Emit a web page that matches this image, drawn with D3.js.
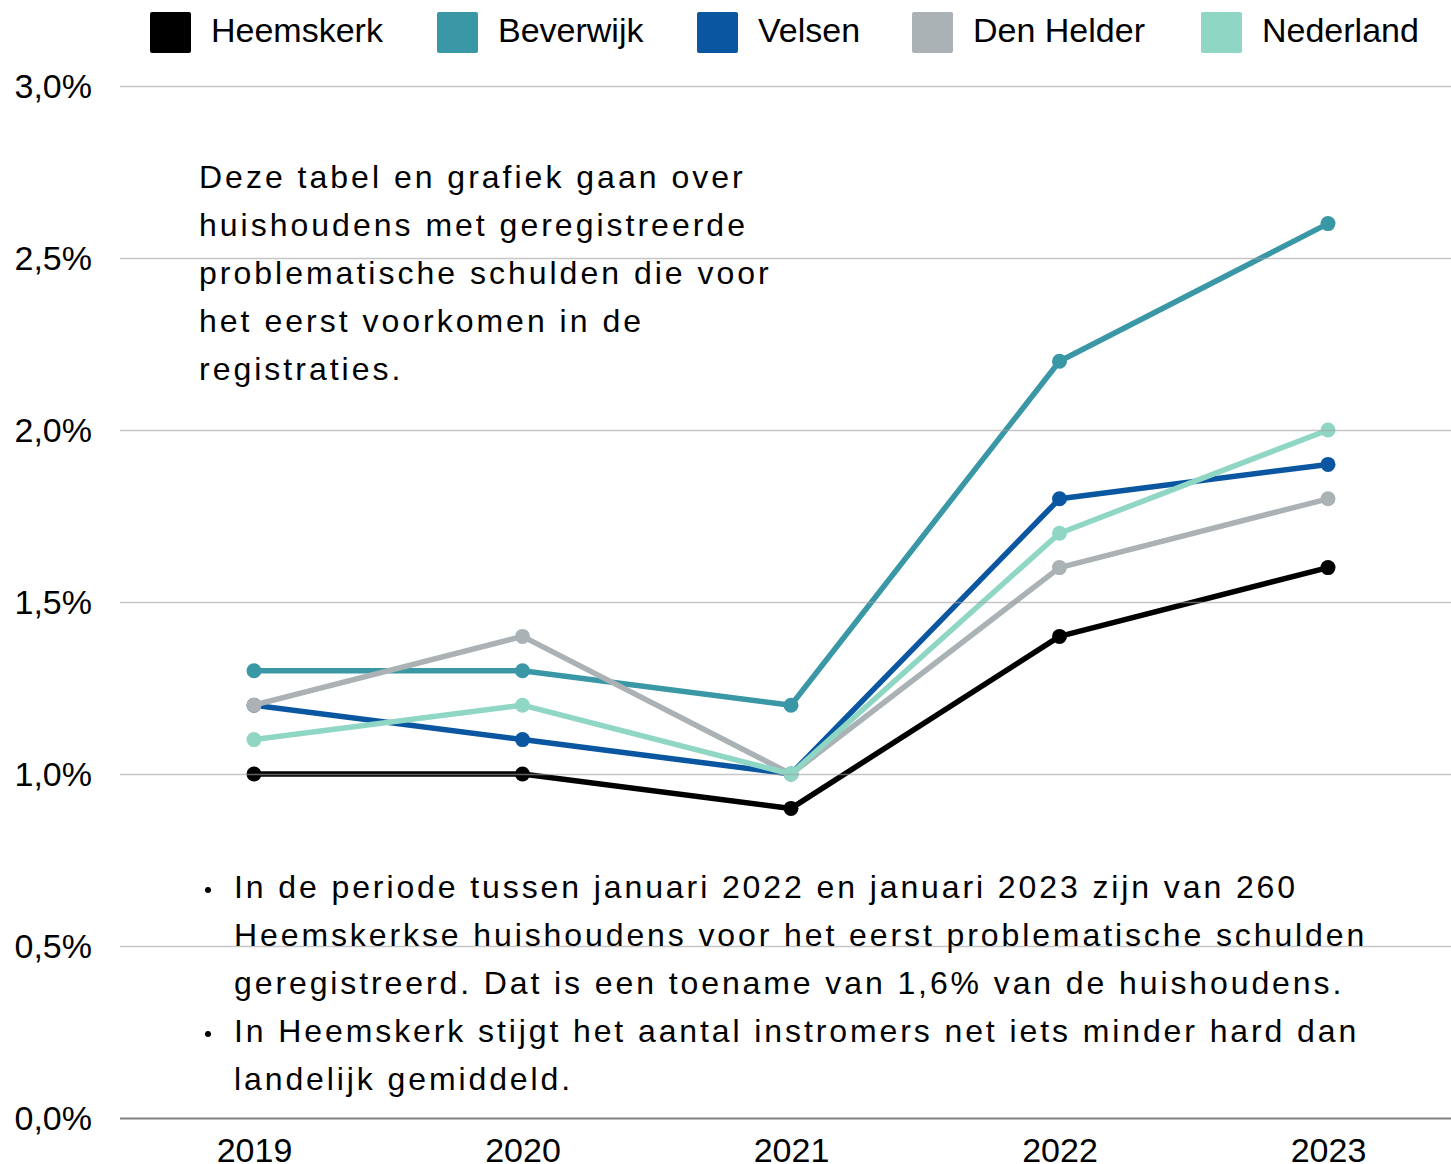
<!DOCTYPE html>
<html><head><meta charset="utf-8">
<script src="https://cdn.jsdelivr.net/npm/d3@7"></script>
<style>body{margin:0;background:#fff}svg{display:block;font-family:"Liberation Sans",Arial,sans-serif}</style>
</head><body><svg id="c" width="1451" height="1164"></svg>
<script>
const years = ["2019","2020","2021","2022","2023"];
const seriesNames = ["Heemskerk","Beverwijk","Velsen","Den Helder","Nederland"];
const heemskerk = [1.0,1.0,0.9,1.4,1.6];
const beverwijk = [1.3,1.3,1.2,2.2,2.6];
const velsen = [1.2,1.1,1.0,1.8,1.9];
const denHelder = [1.2,1.4,1.0,1.6,1.8];
const nederland = [1.1,1.2,1.0,1.7,2.0];
const yTicks = [0,0.5,1.0,1.5,2.0,2.5,3.0];
const colors = ["#000000","#3a97a5","#0a56a0","#aab2b5","#8fd6c5"];
const note1 = ["Deze tabel en grafiek gaan over","huishoudens met geregistreerde","problematische schulden die voor","het eerst voorkomen in de","registraties."];
const note2 = [
 {b:true,t:"In de periode tussen januari 2022 en januari 2023 zijn van 260"},
 {b:false,t:"Heemskerkse huishoudens voor het eerst problematische schulden"},
 {b:false,t:"geregistreerd. Dat is een toename van 1,6% van de huishoudens."},
 {b:true,t:"In Heemskerk stijgt het aantal instromers net iets minder hard dan"},
 {b:false,t:"landelijk gemiddeld."}];

const series = [heemskerk,beverwijk,velsen,denHelder,nederland].map((v,i)=>({name:seriesNames[i],values:v,color:colors[i]}));
const svg = d3.select("#c");
const x = d3.scalePoint().domain(years).range([254,1328]);
const y = d3.scaleLinear().domain([0,3]).range([1118,86]);

const line = d3.line().x((d,i)=>x(years[i])).y(d=>y(d));
const gS = svg.append("g");
series.forEach(s=>{
  gS.append("path").attr("d",line(s.values)).attr("fill","none").attr("stroke",s.color).attr("stroke-width",5.5).attr("stroke-linejoin","round");
  gS.selectAll(null).data(s.values).enter().append("circle")
    .attr("cx",(d,j)=>x(years[j])).attr("cy",d=>y(d)).attr("r",7.5).attr("fill",s.color);
});

const gy = svg.append("g")
  .call(d3.axisLeft(y).tickValues(yTicks).tickSize(0).tickFormat(d=>d3.format(".1f")(d).replace(".",",")+"%"));
gy.select(".domain").remove();
gy.selectAll("text").attr("x",92).attr("dy","0.35em").attr("font-size",34).attr("fill","#000").attr("font-family","Liberation Sans, Arial, sans-serif");
gy.selectAll(".tick").append("line").attr("x1",120).attr("x2",1451)
  .attr("stroke",d=>d===0?"#808080":"#a0a0a0").attr("stroke-opacity",d=>d===0?1:0.6).attr("stroke-width",d=>d===0?2:1.5);

const gx = svg.append("g").attr("transform","translate(0,1118)").call(d3.axisBottom(x).tickSize(0));
gx.select(".domain").remove();
gx.selectAll("text").attr("y",44).attr("dy",0).attr("font-size",34).attr("fill","#000").attr("font-family","Liberation Sans, Arial, sans-serif");

const legX = [150,437,697,912,1201];
const lg = svg.append("g");
series.forEach((s,i)=>{
  lg.append("rect").attr("x",legX[i]).attr("y",12).attr("width",41).attr("height",41).attr("rx",2).attr("fill",s.color);
  lg.append("text").attr("x",legX[i]+61).attr("y",42).attr("font-size",34).text(s.name);
});

const n1 = svg.append("g");
note1.forEach((t,i)=>n1.append("text").attr("x",199).attr("y",188+48*i).attr("font-size",32).attr("letter-spacing","3px").text(t));
const n2 = svg.append("g");
note2.forEach((o,i)=>{
  const yy = 898+48*i;
  if(o.b) n2.append("circle").attr("cx",208).attr("cy",yy-8).attr("r",3).attr("fill","#000");
  n2.append("text").attr("x",234).attr("y",yy).attr("font-size",32).attr("letter-spacing","2.9px").text(o.t);
});
</script></body></html>
